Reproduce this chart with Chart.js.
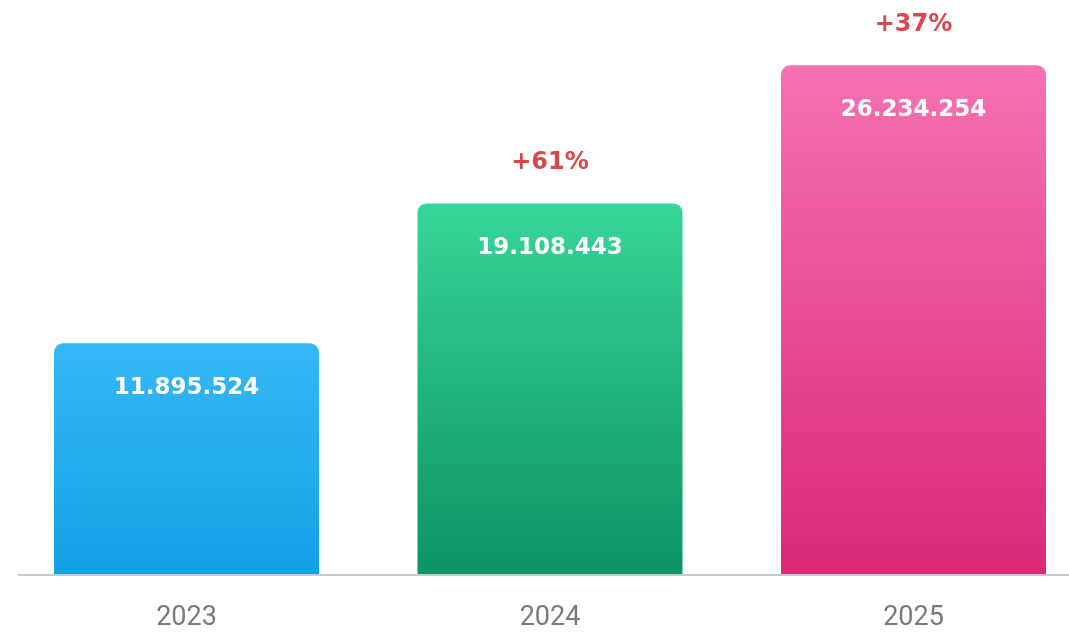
<!DOCTYPE html>
<html>
<head>
<meta charset="utf-8">
<script src="https://cdn.jsdelivr.net/npm/chart.js@4"></script>
<style>
  html, body { margin: 0; padding: 0; background: #fff; }
  #wrap { width: 1069px; height: 633px; position: relative; }
</style>
</head>
<body>
<div id="wrap"><canvas id="chart"></canvas></div>
<script>
const years = ['2023', '2024', '2025'];
const totals = [11895524, 19108443, 26234254];
const topColors = ['#36b8f6', '#37d598', '#f571b2'];
const bottomColors = ['#12a0e5', '#0d9364', '#da2977'];

const fmt = n => n.toString().replace(/\B(?=(\d{3})+(?!\d))/g, '.');
// growth vs previous year
const growth = totals.map((v, i) => i === 0 ? '' : '+' + Math.round((v / totals[i - 1] - 1) * 100) + '%');

const gradientFill = (ctx) => {
  const chart = ctx.chart;
  const i = ctx.dataIndex;
  if (!chart.chartArea || i === undefined) return topColors[i || 0];
  const y = chart.scales.y;
  const g = chart.ctx.createLinearGradient(0, y.getPixelForValue(totals[i]), 0, y.getPixelForValue(0));
  g.addColorStop(0, topColors[i]);
  g.addColorStop(1, bottomColors[i]);
  return g;
};

const baseline = {
  id: 'baseline',
  beforeDatasetsDraw(chart) {
    const c = chart.ctx;
    const y0 = chart.scales.y.getPixelForValue(0);
    c.save();
    c.strokeStyle = '#c9c9c9';
    c.lineWidth = 2;
    c.beginPath();
    c.moveTo(18, y0 + 1);
    c.lineTo(chart.width, y0 + 1);
    c.stroke();
    c.restore();
  }
};

const barLabels = {
  id: 'barLabels',
  afterDatasetsDraw(chart) {
    const c = chart.ctx;
    const meta = chart.getDatasetMeta(0);
    c.save();
    c.textAlign = 'center';
    c.textBaseline = 'middle';
    meta.data.forEach((bar, i) => {
      c.fillStyle = '#ffffff';
      c.font = 'bold 23px "DejaVu Sans"';
      c.fillText(fmt(totals[i]), bar.x, bar.y + 45);
      if (growth[i]) {
        c.fillStyle = '#d9474c';
        c.font = 'bold 24px "DejaVu Sans"';
        c.fillText(growth[i], bar.x, bar.y - 41);
      }
    });
    c.restore();
  }
};

new Chart(document.getElementById('chart'), {
  type: 'bar',
  data: {
    labels: years,
    datasets: [{
      data: totals,
      backgroundColor: gradientFill,
      borderRadius: 9,
      borderSkipped: 'start',
      categoryPercentage: 1,
      barPercentage: 0.729,
      clip: false
    }]
  },
  options: {
    responsive: true,
    maintainAspectRatio: false,
    animation: false,
    layout: { padding: { left: 186.5, right: 155.5, top: 0, bottom: 0 } },
    plugins: {
      legend: { display: false },
      tooltip: { enabled: false }
    },
    scales: {
      x: {
        offset: false,
        grid: { display: false, drawTicks: false },
        border: { display: false },
        ticks: {
          color: '#7a7a7a',
          padding: 28,
          font: { family: 'Roboto', size: 27 }
        },
        afterFit: (scale) => { scale.height = 59; }
      },
      y: {
        display: false,
        min: 0,
        max: 29600000
      }
    }
  },
  plugins: [baseline, barLabels]
});
</script>
</body>
</html>
